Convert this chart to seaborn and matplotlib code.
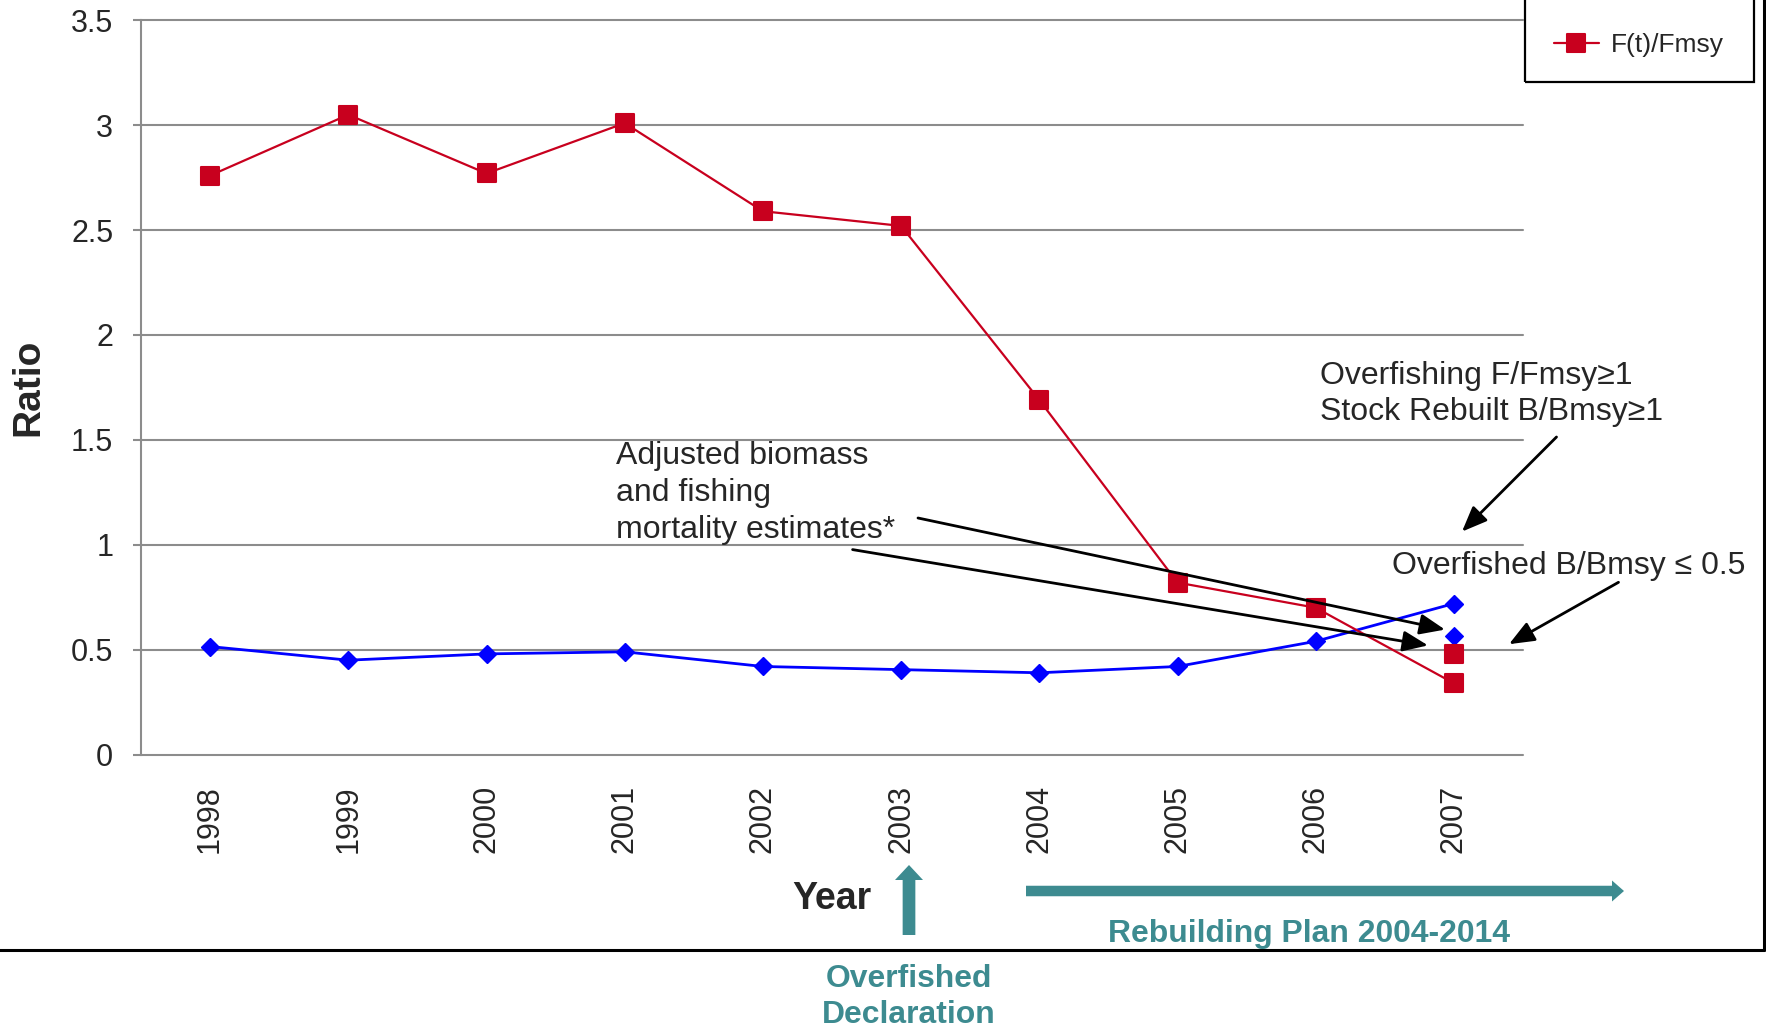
import matplotlib
matplotlib.use("Agg")
import matplotlib.pyplot as plt
from matplotlib import font_manager
from matplotlib.lines import Line2D
from matplotlib.markers import MarkerStyle
from matplotlib.patches import Rectangle, FancyArrow, FancyArrowPatch
from matplotlib.ticker import FuncFormatter
import seaborn as sns
import pandas as pd

# ---- data -------------------------------------------------------------
years = [1998, 1999, 2000, 2001, 2002, 2003, 2004, 2005, 2006, 2007]
f_ratio = [2.76, 3.05, 2.77, 3.01, 2.59, 2.52, 1.69, 0.82, 0.70, 0.34]
b_ratio = [0.515, 0.45, 0.48, 0.49, 0.42, 0.405, 0.39, 0.42, 0.54, 0.72]
# adjusted 2007 estimates
adj_year = [2007]
adj_f = [0.48]
adj_b = [0.565]
y_ticks = [0, 0.5, 1, 1.5, 2, 2.5, 3, 3.5]

RED = "#C8001E"
BLUE = "#0000FF"
TEAL = "#3D8B90"
GRID = "#8C8C8C"

sns.set_style("white")
plt.rcParams["font.family"] = ["Liberation Sans", "DejaVu Sans"]


def _has(fam):
    try:
        font_manager.findfont(font_manager.FontProperties(family=fam),
                              fallback_to_default=False)
        return True
    except Exception:
        return False


# condensed face for the timeline labels; regular face at a smaller size otherwise
if _has("Liberation Sans Narrow"):
    NARROW, NSCALE = ["Liberation Sans Narrow", "Liberation Sans"], 1.0
else:
    NARROW, NSCALE = ["Liberation Sans", "DejaVu Sans"], 0.85

W, H = 1766, 1030
fig = plt.figure(figsize=(W / 100, H / 100), dpi=100)
fig.patch.set_facecolor("white")


def fx(px):
    return px / W


def fy(py):
    return 1 - py / H


ax = fig.add_axes([fx(141), fy(754.6), fx(1523) - fx(141), fy(20.3) - fy(754.6)])

df = pd.DataFrame({"year": years, "F": f_ratio, "B": b_ratio})
adj = pd.DataFrame({"year": adj_year, "F": adj_f, "B": adj_b})

sq = MarkerStyle("s", joinstyle="round")
sns.lineplot(data=df, x="year", y="B", ax=ax, color=BLUE, lw=2.0,
             marker="D", markersize=9, markeredgecolor=BLUE, markeredgewidth=1,
             zorder=3)
sns.lineplot(data=df, x="year", y="F", ax=ax, color=RED, lw=1.6,
             marker=sq, markersize=13, markeredgecolor=RED, markeredgewidth=1.5,
             zorder=4)
sns.scatterplot(data=adj, x="year", y="B", ax=ax, color=BLUE, marker="D",
                s=81, edgecolor=BLUE, linewidth=1, zorder=5)
sns.scatterplot(data=adj, x="year", y="F", ax=ax, color=RED, marker=sq,
                s=169, edgecolor=RED, linewidth=1.5, zorder=5)

ax.set_xlim(years[0] - 0.5, years[-1] + 0.5)
ax.set_ylim(0, 3.5)
ax.set_xticks(years)
ax.set_xticklabels([str(y) for y in years], rotation=90, fontsize=22)
ax.set_yticks(y_ticks)
ax.yaxis.set_major_formatter(FuncFormatter(lambda v, p: f"{v:g}"))
ax.tick_params(axis="y", labelsize=22, length=6, width=1.5, color=GRID,
               direction="out", pad=14, left=True)
ax.tick_params(axis="x", length=0, pad=22)

ax.grid(axis="y", color=GRID, lw=1.5)
ax.grid(axis="x", visible=False)
for gl in ax.get_ygridlines():
    gl.set_clip_on(False)
for s in ["top", "right", "bottom"]:
    ax.spines[s].set_visible(False)
ax.spines["left"].set_color(GRID)
ax.spines["left"].set_linewidth(1.5)

ax.set_ylabel("Ratio", fontsize=28, fontweight="bold", va="center")
ax.yaxis.set_label_coords(-0.0818, 0.5)
ax.set_xlabel("Year", fontsize=30 * NSCALE * 1.06, fontweight="bold",
              family=NARROW, va="center")
ax.xaxis.set_label_coords(0.5, -0.196)

# legend
red_handle = Line2D([], [], color=RED, lw=1.6, marker=sq, markersize=13,
                    markeredgecolor=RED, markeredgewidth=1.5)
ax.legend([red_handle], ["F(t)/Fmsy"], loc="center left",
          bbox_to_anchor=(fx(1554), fy(45)), bbox_transform=fig.transFigure,
          frameon=False, fontsize=19, handlelength=1.7, handletextpad=0.45,
          borderpad=0, borderaxespad=0)
fig.patches.append(Rectangle((fx(1525), fy(82)), fx(1754) - fx(1525), 0.2,
                             transform=fig.transFigure, fill=False,
                             edgecolor="black", lw=1.6))

# outer frame
fig.add_artist(Line2D([fx(1764), fx(1764)], [fy(950), 1.02], color="black",
                      lw=2.2, transform=fig.transFigure))
fig.add_artist(Line2D([-0.01, fx(1764)], [fy(950), fy(950)], color="black",
                      lw=2.2, transform=fig.transFigure))

# annotations
fig.text(fx(616), fy(493), "Adjusted biomass\nand fishing\nmortality estimates*",
         fontsize=23, ha="left", va="center", linespacing=1.3)
fig.text(fx(1320), fy(394), "Overfishing F/Fmsy\u22651\nStock Rebuilt B/Bmsy\u22651",
         fontsize=23, ha="left", va="center", linespacing=1.3)
fig.text(fx(1392), fy(566), "Overfished B/Bmsy \u2264 0.5",
         fontsize=23, ha="left", va="center")

arrows = [((1556.5, 437), (1462, 531.6)),
          ((1618.5, 582.3), (1509, 644.2)),
          ((918, 518), (1445, 629.6)),
          ((852.6, 549.6), (1428, 645.4))]
for (x0, y0), (x1, y1) in arrows:
    fig.add_artist(FancyArrowPatch(
        (fx(x0), fy(y0)), (fx(x1), fy(y1)), transform=fig.transFigure,
        arrowstyle="-|>,head_length=1.1,head_width=0.45", mutation_scale=14,
        color="black", lw=2.0, shrinkA=0, shrinkB=0))

# timeline arrows and labels
fig.patches.append(FancyArrow(9.09, (H - 935) / 100, 0, 0.70, width=0.127,
                              head_width=0.28, head_length=0.15,
                              length_includes_head=True, color=TEAL, lw=0,
                              transform=fig.dpi_scale_trans))
fig.patches.append(FancyArrow(10.26, (H - 891) / 100, 5.98, 0, width=0.105,
                              head_width=0.21, head_length=0.12,
                              length_includes_head=True, color=TEAL, lw=0,
                              transform=fig.dpi_scale_trans))
fig.text(fx(1309), fy(934), "Rebuilding Plan 2004-2014", fontsize=27 * NSCALE,
         fontweight="bold", family=NARROW, color=TEAL, ha="center", va="center")
fig.text(fx(909), fy(997), "Overfished\nDeclaration", fontsize=27 * NSCALE,
         fontweight="bold", family=NARROW, color=TEAL, ha="center", va="center",
         linespacing=1.26)

fig.savefig("out.png", dpi=100, facecolor="white")
